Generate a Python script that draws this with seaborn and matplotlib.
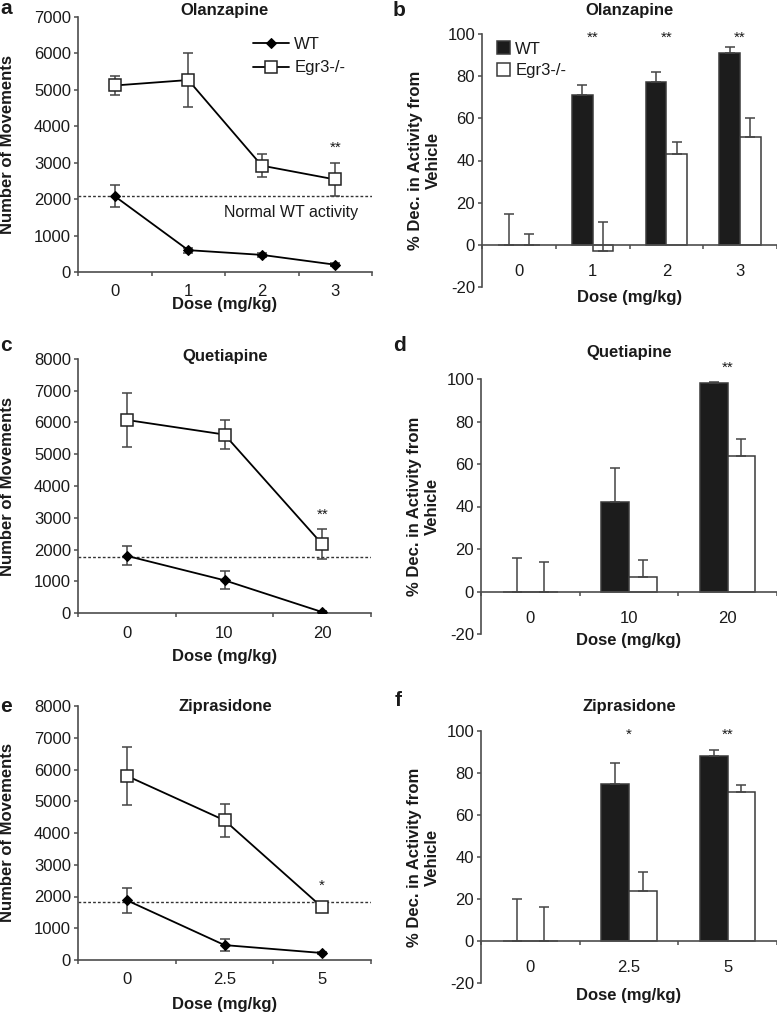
import numpy as np
import pandas as pd
import matplotlib
matplotlib.use('Agg')
import matplotlib.pyplot as plt
import seaborn as sns

sns.set_style('ticks')
plt.rcParams['font.family'] = ['Liberation Sans', 'DejaVu Sans']
plt.rcParams['axes.unicode_minus'] = False
plt.rcParams['text.color'] = '#1a1a1a'
plt.rcParams['axes.labelcolor'] = '#1a1a1a'
plt.rcParams['xtick.color'] = '#4d4d4d'
plt.rcParams['ytick.color'] = '#4d4d4d'
plt.rcParams['xtick.labelcolor'] = '#1a1a1a'
plt.rcParams['ytick.labelcolor'] = '#1a1a1a'

genotypes = ['WT', 'Egr3-/-']

# Olanzapine (a, b)
olz_doses = ['0', '1', '2', '3']
olz_wt = [2080, 600, 470, 200]
olz_wt_err = [300, 70, 60, 40]
olz_ko = [5120, 5270, 2920, 2540]
olz_ko_err = [250, 730, 320, 450]
olz_normal = 2100
olz_wt_pct = [0, 71, 77, 91]
olz_wt_pct_err = [14.5, 5, 5, 3]
olz_ko_pct = [0, -3, 43, 51]
olz_ko_pct_err = [5, 14, 6, 9]
olz_line_stars = ['', '', '', '**']
olz_bar_stars = ['', '**', '**', '**']

# Quetiapine (c, d)
qtp_doses = ['0', '10', '20']
qtp_wt = [1800, 1030, 30]
qtp_wt_err = [300, 280, 20]
qtp_ko = [6080, 5620, 2170]
qtp_ko_err = [850, 450, 470]
qtp_normal = 1750
qtp_wt_pct = [0, 42, 98]
qtp_wt_pct_err = [16, 16, 0.8]
qtp_ko_pct = [0, 7, 64]
qtp_ko_pct_err = [14, 8, 8]
qtp_line_stars = ['', '', '**']
qtp_bar_stars = ['', '', '**']

# Ziprasidone (e, f)
zip_doses = ['0', '2.5', '5']
zip_wt = [1880, 470, 220]
zip_wt_err = [400, 180, 30]
zip_ko = [5800, 4400, 1660]
zip_ko_err = [920, 520, 60]
zip_normal = 1820
zip_wt_pct = [0, 75, 88]
zip_wt_pct_err = [20, 10, 3]
zip_ko_pct = [0, 24, 71]
zip_ko_pct_err = [16, 9, 3.5]
zip_line_stars = ['', '', '*']
zip_bar_stars = ['', '*', '**']

W, H = 777, 1014
fig = plt.figure(figsize=(W / 100, H / 100), dpi=100)


def px_axes(left, top, right, bottom):
    return fig.add_axes([left / W, 1 - bottom / H, (right - left) / W, (bottom - top) / H])


def style_axes(ax, n):
    for s in ['top', 'right']:
        ax.spines[s].set_visible(False)
    for s in ['left', 'bottom']:
        ax.spines[s].set_color('#4d4d4d')
        ax.spines[s].set_linewidth(1.2)
    ax.set_xlim(-0.5, n - 0.5)
    ax.set_xticks(np.arange(n + 1) - 0.5, minor=True)
    ax.tick_params(axis='x', which='major', length=0, labelsize=12)
    ax.tick_params(axis='x', which='minor', length=3, width=1.1, direction='out')
    ax.tick_params(axis='y', length=3, width=1.1, direction='out', labelsize=12, pad=2)


def draw_lines(ax, doses, wt, wt_err, ko, ko_err, normal, ymax, stars, star_y, legend=False):
    n = len(doses)
    pos = np.arange(n)
    ax.axhline(normal, color='#333333', lw=1, ls=(0, (2, 1.5)), zorder=1)
    ax.errorbar(pos, wt, yerr=wt_err, fmt='none', ecolor='#444444', elinewidth=1.1,
                capsize=3.5, capthick=1.1, zorder=2)
    ax.errorbar(pos, ko, yerr=ko_err, fmt='none', ecolor='#444444', elinewidth=1.1,
                capsize=3.5, capthick=1.1, zorder=2)
    sns.lineplot(x=pos, y=wt, ax=ax, color='black', lw=1.3, marker='D', markersize=5.5,
                 markeredgecolor='black', label='WT', zorder=3)
    sns.lineplot(x=pos, y=ko, ax=ax, color='black', lw=1.3, marker='s', markersize=8,
                 markerfacecolor='white', markeredgecolor='#222222', markeredgewidth=1.1,
                 label='Egr3-/-', zorder=3)
    style_axes(ax, n)
    ax.set_ylim(0, ymax)
    ax.set_yticks(np.arange(0, ymax + 1, 1000))
    ax.set_xticks(pos)
    ax.set_xticklabels(doses)
    ax.tick_params(axis='x', which='major', pad=9)
    for p, s in zip(pos, stars):
        if s:
            ax.text(p, star_y, s, ha='center', va='center', fontsize=11)
    ax.set_ylabel('Number of Movements', fontsize=12, fontweight='bold')
    ax.yaxis.set_label_coords(-0.215, 0.5)
    ax.set_xlabel('Dose (mg/kg)', fontsize=12, fontweight='bold')
    if legend:
        ax.legend(loc='upper right', bbox_to_anchor=(0.96, 0.98), frameon=False, fontsize=12,
                  handlelength=2.2, labelspacing=0.5, handletextpad=0.3)
    else:
        ax.get_legend().remove()


def draw_bars(ax, doses, wt, wt_err, ko, ko_err, stars, star_y, legend=False):
    n = len(doses)
    df = pd.DataFrame({'dose': doses * 2, 'pct': wt + ko,
                       'genotype': ['WT'] * n + ['Egr3-/-'] * n})
    sns.barplot(data=df, x='dose', y='pct', hue='genotype', order=doses, hue_order=genotypes,
                palette={'WT': '#1c1c1c', 'Egr3-/-': 'white'}, saturation=1, width=0.56,
                edgecolor='#3a3a3a', linewidth=1.1, errorbar=None, ax=ax, legend=legend)
    for cont, vals, errs in zip(ax.containers, [wt, ko], [wt_err, ko_err]):
        xs = [b.get_x() + b.get_width() / 2 for b in cont]
        ax.errorbar(xs, vals, yerr=[np.zeros(n), errs], fmt='none', ecolor='#444444',
                    elinewidth=1.1, capsize=3.5, capthick=1.1, zorder=3)
    style_axes(ax, n)
    ax.spines['bottom'].set_position(('data', 0))
    ax.set_ylim(-20, 100)
    ax.set_yticks(np.arange(-20, 101, 20))
    ax.tick_params(axis='x', which='major', pad=14)
    for p, s in zip(range(n), stars):
        if s:
            ax.text(p, star_y, s, ha='center', va='center', fontsize=11, clip_on=False)
    ax.set_ylabel('% Dec. in Activity from\nVehicle', fontsize=12, fontweight='bold')
    ax.yaxis.set_label_coords(-0.14, 0.5)
    ax.set_xlabel('Dose (mg/kg)', fontsize=12, fontweight='bold')
    if legend:
        ax.legend(loc='upper left', bbox_to_anchor=(0.0, 1.03), frameon=False, fontsize=12,
                  handlelength=0.8, handleheight=0.8, labelspacing=0.4, handletextpad=0.3,
                  title=None)


# panel a / b
ax_a = px_axes(78, 17, 372, 272)
draw_lines(ax_a, olz_doses, olz_wt, olz_wt_err, olz_ko, olz_ko_err, olz_normal, 7000,
           olz_line_stars, 3400, legend=True)
ax_a.text(2.4, 1620, 'Normal WT activity', ha='center', va='center', fontsize=11.5)
ax_a.xaxis.set_label_coords(0.5, -0.1)

ax_b = px_axes(482, 34, 777, 287)
draw_bars(ax_b, olz_doses, olz_wt_pct, olz_wt_pct_err, olz_ko_pct, olz_ko_pct_err,
          olz_bar_stars, 98, legend=True)
ax_b.xaxis.set_label_coords(0.5, -0.012)

# panel c / d
ax_c = px_axes(78, 359, 371, 613)
draw_lines(ax_c, qtp_doses, qtp_wt, qtp_wt_err, qtp_ko, qtp_ko_err, qtp_normal, 8000,
           qtp_line_stars, 3100)
ax_c.xaxis.set_label_coords(0.5, -0.14)

ax_d = px_axes(481, 379, 777, 634)
draw_bars(ax_d, qtp_doses, qtp_wt_pct, qtp_wt_pct_err, qtp_ko_pct, qtp_ko_pct_err,
          qtp_bar_stars, 105.5)
ax_d.xaxis.set_label_coords(0.5, 0.005)

# panel e / f
ax_e = px_axes(78, 706, 371, 960)
draw_lines(ax_e, zip_doses, zip_wt, zip_wt_err, zip_ko, zip_ko_err, zip_normal, 8000,
           zip_line_stars, 2330)
ax_e.xaxis.set_label_coords(0.5, -0.145)

ax_f = px_axes(481, 731, 777, 983)
draw_bars(ax_f, zip_doses, zip_wt_pct, zip_wt_pct_err, zip_ko_pct, zip_ko_pct_err,
          zip_bar_stars, 98)
ax_f.xaxis.set_label_coords(0.5, -0.02)

# titles and panel letters
titles = [('Olanzapine', 225, 10), ('Olanzapine', 629, 10), ('Quetiapine', 225, 357),
          ('Quetiapine', 629, 353), ('Ziprasidone', 225, 707), ('Ziprasidone', 629, 707)]
for t, x, y in titles:
    fig.text(x / W, 1 - y / H, t, ha='center', va='center', fontsize=12, fontweight='bold')

letters = [('a', 0, 8), ('b', 393, 11), ('c', 0, 345), ('d', 393, 345), ('e', 0, 706), ('f', 395, 701)]
for t, x, y in letters:
    fig.text(x / W, 1 - y / H, t, ha='left', va='center', fontsize=15, fontweight='bold')

fig.savefig('out.png', dpi=100)
